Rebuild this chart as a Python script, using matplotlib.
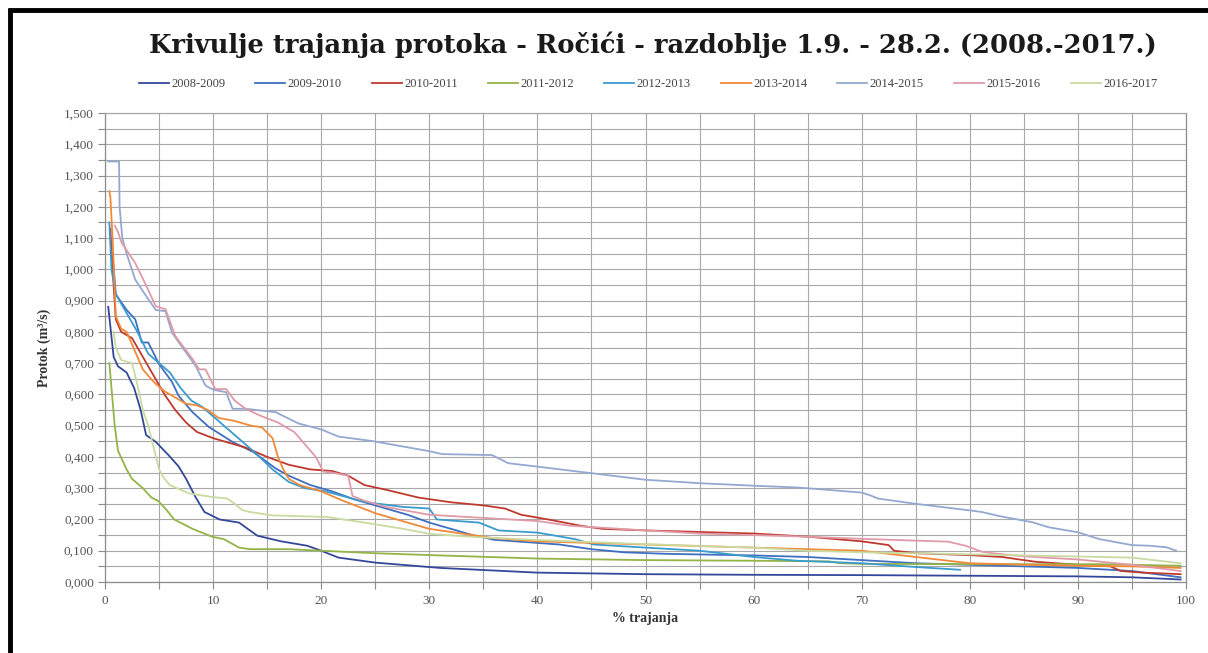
#!/usr/bin/env python3
"""
Krivulje trajanja protoka - Ročići, razdoblje 1.9. - 28.2. (2008.-2017.)
Duration curves read off the reference chart, redrawn with matplotlib.
"""

import matplotlib
matplotlib.use("Agg")
import matplotlib.pyplot as plt
from matplotlib.ticker import MultipleLocator, FuncFormatter
from matplotlib.lines import Line2D

# --- data: (% trajanja, protok m3/s) per season ---------------------------
seasons = ["2008-2009", "2009-2010", "2010-2011", "2011-2012", "2012-2013",
           "2013-2014", "2014-2015", "2015-2016", "2016-2017"]

x_2008 = [0.3, 0.8, 1.2, 2.0, 2.7, 3.3, 3.8, 4.7, 5.9, 6.8, 7.5, 8.4, 9.2,
          10.6, 12.4, 13.2, 14.1, 16.3, 18.7, 20.0, 21.6, 25.0, 31.0, 40.0,
          50.0, 60.0, 70.0, 80.0, 90.0, 95.0, 99.5]
q_2008 = [0.88, 0.72, 0.69, 0.67, 0.62, 0.55, 0.47, 0.448, 0.405, 0.37, 0.33,
          0.27, 0.224, 0.20, 0.19, 0.17, 0.148, 0.13, 0.116, 0.10, 0.078, 0.062,
          0.045, 0.03, 0.025, 0.023, 0.022, 0.02, 0.018, 0.015, 0.008]

x_2009 = [0.7, 1.0, 1.4, 2.0, 2.8, 3.4, 4.0, 5.0, 6.2, 6.8, 8.1, 9.6, 11.8,
          13.7, 15.8, 17.0, 19.0, 21.0, 23.0, 25.0, 28.0, 30.0, 32.0, 34.0,
          36.0, 40.0, 42.0, 45.0, 48.0, 52.0, 60.0, 65.0, 70.0, 75.0, 80.0,
          90.0, 95.0, 99.5]
q_2009 = [1.05, 0.92, 0.90, 0.87, 0.84, 0.766, 0.766, 0.697, 0.64, 0.596,
          0.543, 0.496, 0.448, 0.416, 0.363, 0.34, 0.31, 0.29, 0.265, 0.245,
          0.215, 0.19, 0.17, 0.15, 0.135, 0.125, 0.12, 0.105, 0.095, 0.09,
          0.085, 0.08, 0.07, 0.06, 0.055, 0.045, 0.035, 0.015]

x_2010 = [0.5, 0.7, 1.0, 1.5, 2.5, 3.5, 4.5, 5.5, 6.5, 7.5, 8.5, 10.0, 11.5,
          13.0, 15.0, 17.0, 19.0, 21.0, 22.5, 24.0, 26.0, 29.0, 32.0, 35.0,
          37.0, 38.5, 41.0, 44.0, 46.0, 50.0, 55.0, 60.0, 65.0, 70.0, 72.5,
          73.0, 75.0, 80.0, 83.0, 86.0, 90.0, 93.0, 94.0, 96.0, 99.5]
q_2010 = [1.13, 1.0, 0.84, 0.80, 0.78, 0.72, 0.66, 0.60, 0.55, 0.51, 0.48,
          0.46, 0.445, 0.43, 0.40, 0.375, 0.36, 0.355, 0.34, 0.31, 0.295, 0.27,
          0.255, 0.245, 0.235, 0.215, 0.20, 0.18, 0.17, 0.165, 0.16, 0.155,
          0.145, 0.13, 0.118, 0.10, 0.092, 0.086, 0.08, 0.065, 0.055, 0.05,
          0.035, 0.03, 0.025]

x_2011 = [0.4, 0.6, 0.9, 1.2, 2.0, 2.5, 3.5, 4.3, 4.9, 5.7, 6.4, 8.1, 9.9,
          11.0, 12.4, 13.4, 17.0, 20.0, 25.0, 31.0, 40.0, 50.0, 60.0, 67.0,
          68.0, 70.0, 80.0, 92.0, 99.5]
q_2011 = [0.70, 0.62, 0.50, 0.42, 0.36, 0.33, 0.30, 0.27, 0.26, 0.23, 0.20,
          0.17, 0.145, 0.137, 0.11, 0.105, 0.105, 0.10, 0.092, 0.085, 0.075,
          0.07, 0.068, 0.066, 0.06, 0.058, 0.057, 0.057, 0.052]

x_2012 = [0.4, 0.6, 1.0, 1.5, 2.0, 3.0, 4.0, 5.0, 6.0, 7.0, 8.0, 9.0, 10.0,
          11.0, 12.0, 13.0, 14.0, 15.5, 17.0, 18.5, 20.5, 24.0, 27.6, 30.0,
          30.7, 34.6, 36.4, 40.0, 43.5, 45.2, 50.0, 55.0, 60.0, 64.0, 70.0,
          75.0, 79.1]
q_2012 = [1.15, 1.0, 0.92, 0.89, 0.86, 0.80, 0.73, 0.70, 0.67, 0.62, 0.58,
          0.56, 0.53, 0.50, 0.47, 0.44, 0.41, 0.36, 0.32, 0.30, 0.289, 0.256,
          0.24, 0.235, 0.20, 0.19, 0.165, 0.158, 0.137, 0.12, 0.11, 0.10, 0.08,
          0.068, 0.06, 0.048, 0.039]

x_2013 = [0.4, 0.5, 0.7, 1.0, 1.5, 2.0, 2.5, 3.0, 3.5, 4.5, 5.5, 6.5, 7.5,
          8.5, 9.5, 10.5, 12.0, 13.5, 14.5, 15.5, 16.0, 16.5, 17.0, 18.0, 20.0,
          22.0, 25.0, 28.0, 30.0, 33.0, 36.0, 40.0, 45.0, 50.0, 55.0, 60.0,
          65.0, 70.0, 75.0, 80.0, 85.0, 90.0, 95.0, 99.5]
q_2013 = [1.25, 1.23, 1.10, 0.85, 0.81, 0.80, 0.76, 0.72, 0.68, 0.64, 0.61,
          0.59, 0.57, 0.565, 0.55, 0.525, 0.515, 0.50, 0.495, 0.46, 0.40, 0.36,
          0.33, 0.31, 0.29, 0.26, 0.22, 0.19, 0.17, 0.155, 0.14, 0.13, 0.125,
          0.12, 0.115, 0.11, 0.105, 0.10, 0.08, 0.06, 0.055, 0.052, 0.05, 0.045]

x_2014 = [0.3, 1.3, 1.35, 1.6, 2.0, 2.8, 3.7, 4.7, 5.6, 6.2, 7.5, 8.4, 9.3,
          10.0, 11.2, 11.8, 13.0, 15.8, 17.9, 20.0, 21.6, 24.7, 29.9, 31.2,
          35.8, 37.3, 40.0, 45.0, 50.0, 55.0, 60.0, 64.2, 70.0, 70.8, 71.5,
          75.0, 80.0, 81.1, 82.7, 85.8, 87.3, 90.0, 92.0, 95.0, 96.6, 98.2,
          99.1]
q_2014 = [1.345, 1.345, 1.20, 1.10, 1.05, 0.967, 0.92, 0.87, 0.866, 0.797,
          0.734, 0.69, 0.628, 0.615, 0.607, 0.554, 0.554, 0.543, 0.507, 0.488,
          0.465, 0.451, 0.419, 0.409, 0.406, 0.38, 0.369, 0.348, 0.327, 0.316,
          0.308, 0.302, 0.286, 0.277, 0.267, 0.25, 0.229, 0.224, 0.211, 0.191,
          0.175, 0.159, 0.137, 0.118, 0.116, 0.111, 0.10]

x_2015 = [0.9, 1.2, 1.55, 2.8, 3.7, 4.7, 5.6, 6.5, 8.1, 8.7, 9.3, 10.2, 11.2,
          12.0, 13.0, 14.5, 16.0, 17.5, 18.5, 19.5, 20.2, 21.0, 22.5, 22.9,
          24.0, 26.0, 30.0, 35.0, 40.0, 43.0, 50.0, 55.0, 64.0, 70.0, 78.0,
          79.6, 81.1, 82.1, 85.0, 90.0, 95.0, 99.5]
q_2015 = [1.14, 1.12, 1.084, 1.02, 0.956, 0.882, 0.872, 0.787, 0.713, 0.68,
          0.68, 0.617, 0.617, 0.58, 0.554, 0.53, 0.51, 0.48, 0.44, 0.40, 0.353,
          0.35, 0.34, 0.275, 0.26, 0.24, 0.215, 0.205, 0.195, 0.18, 0.165,
          0.155, 0.146, 0.138, 0.129, 0.116, 0.097, 0.092, 0.082, 0.072, 0.055,
          0.035]

x_2016 = [0.8, 1.0, 1.5, 2.5, 3.0, 3.5, 4.0, 4.5, 5.0, 5.5, 6.0, 7.8, 9.9,
          11.3, 12.0, 12.7, 13.4, 15.5, 20.5, 24.0, 27.6, 30.0, 34.6, 41.7,
          50.0, 60.0, 65.0, 70.0, 75.0, 85.0, 95.0, 97.0, 99.5]
q_2016 = [0.80, 0.75, 0.71, 0.70, 0.63, 0.55, 0.50, 0.43, 0.36, 0.33, 0.31,
          0.283, 0.272, 0.267, 0.25, 0.23, 0.224, 0.213, 0.208, 0.19, 0.17,
          0.154, 0.143, 0.132, 0.121, 0.11, 0.10, 0.095, 0.092, 0.085, 0.078,
          0.07, 0.06]

xs = [x_2008, x_2009, x_2010, x_2011, x_2012, x_2013, x_2014, x_2015, x_2016]
qs = [q_2008, q_2009, q_2010, q_2011, q_2012, q_2013, q_2014, q_2015, q_2016]

colors = ["#34489A", "#3F6FC0", "#C0392F", "#93B447", "#3A9BCF",
          "#F08A3A", "#94A8D0", "#E09AA8", "#C9DBA0"]

# --- figure -----------------------------------------------------------------
W, H = 1208, 653
fig = plt.figure(figsize=(W / 100, H / 100), dpi=100)
fig.patch.set_facecolor("white")

ax = fig.add_axes([105 / W, 1 - 582 / H, (1186 - 105) / W, (582 - 113) / H])

for x, q, lab, c in zip(xs, qs, seasons, colors):
    ax.plot(x, q, color=c, lw=1.3, label=lab, solid_joinstyle="round")

ax.set_xlim(0, 100)
ax.set_ylim(0, 1.5)
ax.xaxis.set_major_locator(MultipleLocator(10))
ax.xaxis.set_minor_locator(MultipleLocator(5))
ax.yaxis.set_major_locator(MultipleLocator(0.1))
ax.yaxis.set_minor_locator(MultipleLocator(0.05))
ax.yaxis.set_major_formatter(FuncFormatter(lambda v, p: f"{v:.3f}".replace(".", ",")))

grid_c = "#A8A8A8"
ax.grid(True, which="both", color=grid_c, lw=0.8)
ax.set_axisbelow(True)
for s in ax.spines.values():
    s.set_color("#8C8C8C")
    s.set_linewidth(0.9)
ax.spines["top"].set_color(grid_c)

ax.tick_params(which="both", direction="out", length=5, color="#8C8C8C", width=0.8)
ax.tick_params(axis="x", pad=4)
ax.tick_params(axis="y", pad=3)
for t in ax.get_xticklabels() + ax.get_yticklabels():
    t.set_fontfamily("Liberation Serif")
    t.set_fontsize(9.5)
    t.set_color("#555555")

ax.set_xlabel("% trajanja", family="Liberation Serif", weight="bold",
              size=10, color="#333333", labelpad=4)
ax.set_ylabel("Protok (m³/s)", family="Liberation Serif", weight="bold",
              size=10, color="#333333", labelpad=9)

fig.text(653 / W, 1 - 45 / H,
         "Krivulje trajanja protoka - Ročići - razdoblje 1.9. - 28.2. (2008.-2017.)",
         ha="center", va="center", family="DejaVu Serif", weight="bold",
         size=18.5, color="#1A1A1A")

leg = fig.legend(loc="center", bbox_to_anchor=(648 / W, 1 - 84 / H), ncol=9,
                 frameon=False, handlelength=2.4, handletextpad=0.2,
                 columnspacing=2.4, prop=dict(family="Liberation Serif", size=9))
for t in leg.get_texts():
    t.set_color("#444444")

# thick black outer frame (only top and left edge visible in the crop)
fig.add_artist(Line2D([8 / W, 1.0], [1 - 10 / H, 1 - 10 / H], color="black",
                      lw=3.5, transform=fig.transFigure, solid_capstyle="butt"))
fig.add_artist(Line2D([10 / W, 10 / W], [1 - 8 / H, 0.0], color="black",
                      lw=3.5, transform=fig.transFigure, solid_capstyle="butt"))

fig.savefig("out.png", dpi=100)
